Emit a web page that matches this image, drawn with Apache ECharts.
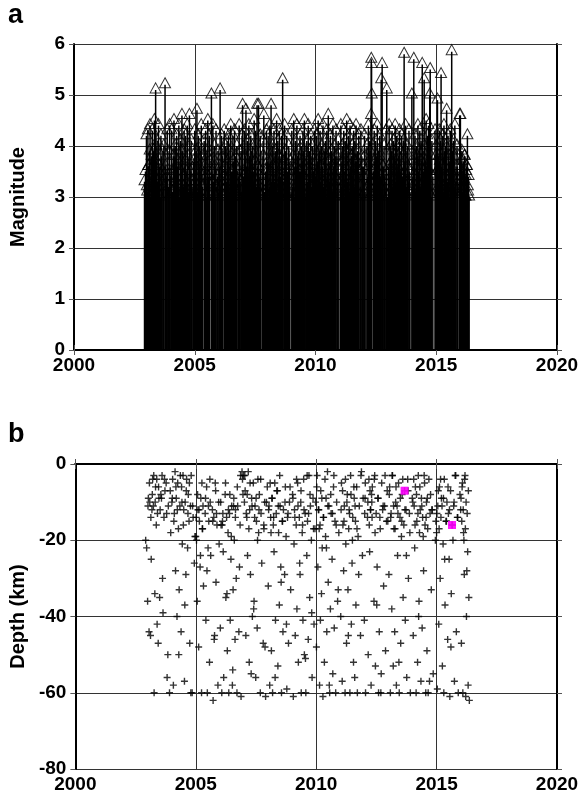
<!DOCTYPE html>
<html>
<head>
<meta charset="utf-8">
<script src="https://cdn.jsdelivr.net/npm/echarts@6/dist/echarts.min.js"></script>
<style>html,body{margin:0;padding:0;background:#fff}#chart{width:582px;height:800px}</style>
</head>
<body>
<div id="chart"></div>
<script>
// ---- data ----
const eventYears = [
2002.92,2002.96,2003.00,2003.03,2003.06,2003.09,2003.12,2003.15,2003.18,2003.21,
2003.24,2003.27,2003.30,2003.33,2003.36,2003.38,2003.41,2003.44,2003.47,2003.50,
2003.55,2003.60,2003.64,2003.68,2003.72,2003.77,2003.81,2003.86,2003.91,2003.96,
2004.01,2004.04,2004.07,2004.11,2004.14,2004.16,2004.19,2004.22,2004.25,2004.28,
2004.31,2004.34,2004.39,2004.41,2004.44,2004.47,2004.50,2004.53,2004.56,2004.59,
2004.62,2004.66,2004.69,2004.72,2004.75,2004.78,2004.81,2004.85,2004.89,2004.94,
2005.00,2005.03,2005.06,2005.09,2005.12,2005.15,2005.18,2005.21,2005.24,2005.27,
2005.30,2005.32,2005.39,2005.42,2005.45,2005.48,2005.51,2005.54,2005.57,2005.60,
2005.62,2005.69,2005.72,2005.75,2005.78,2005.81,2005.84,2005.88,2005.92,2005.97,
2006.02,2006.05,2006.08,2006.11,2006.14,2006.16,2006.22,2006.25,2006.28,2006.31,
2006.34,2006.37,2006.40,2006.43,2006.46,2006.49,2006.52,2006.55,2006.58,2006.60,
2006.63,2006.65,2006.68,2006.71,2006.74,2006.79,2006.84,2006.88,2006.92,2006.96,
2006.98,2007.02,2007.05,2007.08,2007.12,2007.15,2007.18,2007.22,2007.24,2007.27,
2007.30,2007.32,2007.35,2007.39,2007.42,2007.46,2007.49,2007.52,2007.55,2007.58,
2007.61,2007.64,2007.68,2007.71,2007.74,2007.80,2007.83,2007.86,2007.90,2007.97,
2008.01,2008.04,2008.07,2008.11,2008.14,2008.16,2008.19,2008.22,2008.25,2008.28,
2008.31,2008.34,2008.39,2008.41,2008.44,2008.47,2008.50,2008.53,2008.56,2008.59,
2008.62,2008.64,2008.69,2008.72,2008.75,2008.78,2008.81,2008.85,2008.89,2008.94,
2009.02,2009.05,2009.08,2009.10,2009.13,2009.17,2009.20,2009.23,2009.26,2009.30,
2009.33,2009.36,2009.38,2009.42,2009.45,2009.48,2009.51,2009.54,2009.57,2009.61,
2009.64,2009.67,2009.70,2009.73,2009.76,2009.80,2009.83,2009.87,2009.91,2009.95,
2010.01,2010.04,2010.07,2010.11,2010.14,2010.16,2010.19,2010.22,2010.25,2010.28,
2010.31,2010.34,2010.39,2010.41,2010.44,2010.47,2010.50,2010.53,2010.56,2010.59,
2010.62,2010.66,2010.69,2010.72,2010.75,2010.78,2010.81,2010.85,2010.89,2010.94,
2011.02,2011.05,2011.08,2011.11,2011.14,2011.17,2011.20,2011.23,2011.26,2011.29,
2011.32,2011.35,2011.37,2011.40,2011.43,2011.46,2011.49,2011.52,2011.55,2011.58,
2011.60,2011.63,2011.65,2011.68,2011.71,2011.74,2011.79,2011.84,2011.88,2011.92,
2012.00,2012.03,2012.05,2012.13,2012.16,2012.19,2012.22,2012.25,2012.28,2012.30,
2012.31,2012.32,2012.33,2012.40,2012.43,2012.46,2012.49,2012.53,2012.56,2012.59,
2012.62,2012.66,2012.70,2012.72,2012.76,2012.80,2012.84,2012.88,2012.92,2012.95,
2013.02,2013.05,2013.08,2013.11,2013.14,2013.17,2013.20,2013.23,2013.26,2013.30,
2013.33,2013.36,2013.38,2013.42,2013.45,2013.48,2013.51,2013.54,2013.57,2013.61,
2013.64,2013.67,2013.70,2013.73,2013.76,2013.80,2013.83,2013.87,2013.91,2013.99,
2014.03,2014.07,2014.09,2014.12,2014.15,2014.18,2014.21,2014.24,2014.27,2014.29,
2014.32,2014.35,2014.37,2014.40,2014.42,2014.46,2014.50,2014.52,2014.55,2014.58,
2014.60,2014.63,2014.65,2014.68,2014.73,2014.75,2014.78,2014.82,2014.86,2014.95,
2015.00,2015.03,2015.05,2015.09,2015.12,2015.15,2015.18,2015.20,2015.24,2015.27,
2015.30,2015.32,2015.35,2015.39,2015.43,2015.46,2015.49,2015.52,2015.55,2015.58,
2015.61,2015.64,2015.68,2015.71,2015.74,2015.77,2015.82,2015.86,2015.90,2015.97,
2016.00,2016.03,2016.06,2016.09,2016.12,2016.15,2016.18,2016.21,2016.24,2016.27,
2016.29,2016.31,2016.34,2016.36,
2003.015,2003.075,2003.135,2003.195,2003.255,2003.315,2003.395,2003.455,2003.52,2003.575,2003.62,2003.70,2003.79,2003.84,2003.94,
2004.025,2004.09,2004.175,2004.235,2004.295,2004.36,2004.425,2004.485,2004.545,2004.605,2004.675,2004.735,2004.795,2004.87,2004.965,
2005.015,2005.075,2005.135,2005.195,2005.255,2005.285,2005.405,2005.465,2005.525,2005.585,2005.705,2005.765,2005.825,2005.86,2005.95,
2006.035,2006.095,2006.125,2006.235,2006.295,2006.355,2006.415,2006.475,2006.535,2006.57,2006.645,2006.725,2006.815,2006.86,2006.94,
2007.035,2007.095,2007.135,2007.205,2007.255,2007.335,2007.405,2007.445,2007.505,2007.565,2007.625,2007.695,2007.825,2007.875,2007.935,
2008.025,2008.09,2008.125,2008.175,2008.235,2008.295,2008.365,2008.425,2008.485,2008.545,2008.605,2008.705,2008.765,2008.83,2008.915,
2009.035,2009.115,2009.185,2009.245,2009.315,2009.37,2009.435,2009.495,2009.555,2009.625,2009.685,2009.745,2009.815,2009.89,2009.975,
2010.025,2010.09,2010.125,2010.175,2010.235,2010.295,2010.365,2010.425,2010.485,2010.545,2010.605,2010.675,2010.735,2010.83,2010.915,
2011.035,2011.095,2011.155,2011.215,2011.275,2011.335,2011.385,2011.445,2011.505,2011.565,2011.615,2011.695,2011.765,2011.86,2011.95,
2012.015,2012.04,2012.145,2012.205,2012.235,2012.265,2012.415,2012.445,2012.515,2012.575,2012.645,2012.685,2012.78,2012.86,2012.975,
2013.035,2013.095,2013.155,2013.215,2013.275,2013.315,2013.395,2013.435,2013.495,2013.555,2013.595,2013.685,2013.745,2013.815,2013.89,
2014.015,2014.05,2014.105,2014.165,2014.225,2014.255,2014.305,2014.385,2014.445,2014.485,2014.565,2014.615,2014.705,2014.805,2014.97,
2015.015,2015.07,2015.105,2015.165,2015.225,2015.285,2015.335,2015.41,2015.475,2015.535,2015.595,2015.655,2015.725,2015.795,2015.88,
2016.015,2016.045,2016.075,2016.105,2016.135,2016.165,2016.195,2016.225,2016.255,2016.32
];
const magnitudes = [
3.3,3.5,4.2,3.1,4.3,3.6,3.2,4.4,3.0,3.8,
4.3,3.2,3.9,4.5,3.4,5.1,3.7,4.1,3.1,4.4,
3.6,4.2,3.3,3.9,4.0,5.2,3.5,4.3,3.2,4.4,
3.4,4.3,3.1,3.8,4.5,3.3,4.0,3.6,4.2,3.0,
3.7,4.4,3.2,4.1,3.5,4.6,3.9,3.1,4.3,3.6,
4.2,3.3,4.4,3.8,3.0,4.6,3.5,4.1,3.2,3.7,
4.3,3.4,3.9,4.7,3.1,4.2,3.6,4.0,3.3,4.4,
3.8,3.2,4.1,3.5,4.3,3.0,3.9,4.5,3.4,4.2,
3.7,5.0,3.3,4.4,3.1,4.0,3.6,4.3,3.2,3.9,
3.5,5.1,3.2,4.2,3.8,3.0,4.3,3.6,4.0,3.3,
4.1,3.4,4.2,3.1,3.9,4.4,3.5,3.0,4.2,3.7,
3.2,4.3,3.8,3.1,4.0,3.5,4.4,3.3,3.9,4.2,
4.8,3.4,4.3,3.0,4.7,3.6,4.1,3.2,4.4,3.8,
3.1,4.2,3.5,4.0,3.3,4.5,3.7,4.3,3.0,4.8,
3.6,4.8,3.2,4.2,3.9,3.4,4.1,4.6,3.1,4.3,
3.5,4.2,3.0,4.4,3.7,4.8,3.3,4.0,3.6,4.3,
3.2,3.9,4.5,3.1,4.1,3.4,4.3,3.8,3.0,4.2,
3.6,5.3,3.3,4.4,3.9,3.1,4.2,3.5,4.0,3.7,
4.3,3.2,3.8,4.5,3.0,4.1,3.6,4.4,3.3,3.9,
3.5,4.2,3.1,4.0,3.7,4.3,3.4,4.5,3.0,3.8,
4.1,3.3,4.4,3.6,3.9,4.2,3.2,4.0,3.5,4.3,
3.4,4.2,3.7,4.5,3.1,3.9,4.3,3.3,4.0,3.6,
4.4,3.2,3.8,4.1,3.0,4.3,3.5,4.6,3.7,3.3,
4.2,3.9,3.1,4.4,3.6,4.0,3.4,4.3,3.8,4.1,
3.5,4.4,3.2,4.0,3.7,4.3,3.0,4.1,3.6,4.5,
3.3,3.9,4.2,3.1,4.4,3.6,3.8,4.0,3.4,4.3,
3.2,4.1,3.7,4.4,3.0,3.9,4.2,3.5,4.3,3.8,
3.6,4.2,3.1,4.0,3.4,4.4,3.7,4.1,3.3,4.6,
5.7,5.6,5.0,3.5,4.3,3.2,4.1,3.8,4.4,3.0,
3.9,4.2,3.4,5.3,5.6,3.6,4.0,3.3,4.3,5.1,
3.5,4.4,3.1,4.0,3.7,4.3,3.2,4.1,3.8,4.4,
3.3,4.2,3.6,4.0,3.0,4.3,3.5,3.9,4.2,3.4,
4.1,5.8,3.7,4.4,3.2,4.0,3.6,4.3,3.1,5.0,
3.4,5.7,3.8,4.2,3.1,4.0,3.6,4.4,3.3,3.9,
4.3,3.2,4.1,3.7,5.6,3.5,5.3,4.0,3.0,4.5,
3.6,4.2,3.3,4.4,5.0,5.5,3.8,4.1,3.4,4.3,
4.0,3.5,4.9,3.2,4.3,3.7,4.1,5.4,3.4,4.2,
3.1,4.4,3.6,4.0,4.7,3.3,4.2,3.8,3.0,4.3,
3.5,5.85,3.9,4.1,3.2,4.4,3.6,4.0,3.3,4.6,
4.6,3.4,3.9,3.1,3.7,3.3,3.8,3.0,3.5,3.6,
4.2,3.2,3.4,3.0,
3.2,3.6,3.9,3.4,3.1,3.7,4.0,3.3,3.5,3.0,3.8,3.2,3.6,3.4,3.9,
3.5,3.1,3.8,3.3,3.6,3.0,3.9,3.4,3.2,3.7,3.5,3.1,4.0,3.3,3.6,
3.3,3.7,3.0,3.5,3.9,3.2,3.6,3.4,3.8,3.1,3.5,3.3,3.7,3.0,3.4,
3.6,3.2,3.9,3.4,3.1,3.7,3.3,3.8,3.0,3.5,3.2,3.6,3.4,3.9,3.1,
3.4,3.8,3.1,3.6,3.3,3.9,3.0,3.5,3.7,3.2,3.6,3.4,3.8,3.1,3.5,
3.7,3.2,3.5,3.0,3.9,3.3,3.6,3.1,3.8,3.4,3.2,3.7,3.5,3.0,3.6,
3.1,3.6,3.4,3.8,3.2,3.5,3.0,3.9,3.3,3.7,3.1,3.5,3.8,3.2,3.4,
3.5,3.2,3.8,3.0,3.6,3.3,3.9,3.1,3.4,3.7,3.2,3.5,3.0,3.8,3.3,
3.3,3.7,3.1,3.5,3.9,3.2,3.6,3.0,3.8,3.4,3.1,3.7,3.5,3.2,3.6,
3.4,3.8,3.2,3.6,3.0,3.9,3.3,3.7,3.1,3.5,3.8,3.2,3.6,3.4,3.0,
3.6,3.1,3.9,3.3,3.7,3.0,3.5,3.8,3.2,3.6,3.4,3.1,3.9,3.3,3.5,
3.2,3.7,3.4,3.0,3.8,3.5,3.1,3.6,3.9,3.3,3.7,3.2,3.5,3.0,3.8,
3.5,3.1,3.8,3.3,3.6,3.0,3.9,3.4,3.2,3.7,3.5,3.1,3.8,3.3,3.6,
3.3,3.7,3.1,3.5,3.2,3.8,3.0,3.4,3.6,3.1
];
const depths = [
-20,-22,-36,-9,-44,-10,-45,-25,-12,-4,
-11,-60,-34,-6,-16,-4,-13,-47,-9,-35,
-8,-3,-39,-14,-7,-5,-56,-11,-60,-18,
-10,-4,-58,-13,-2,-28,-9,-40,-5,-17,
-33,-11,-44,-6,-21,-3,-12,-57,-10,-29,
-4,-22,-8,-15,-47,-11,-3,-60,-14,-26,
-19,-20,-36,-12,-48,-15,-27,-9,-60,-17,
-11,-32,-13,-41,-6,-60,-22,-15,-52,-10,
-24,-12,-62,-14,-45,-5,-31,-16,-58,-21,
-43,-16,-60,-15,-23,-56,-8,-35,-14,-49,
-18,-60,-13,-41,-25,-11,-58,-33,-9,-20,
-46,-12,-30,-60,-11,-44,-16,-61,-2,-8,
-3,-10,-7,-45,-14,-24,-2,-52,-12,-29,
-55,-9,-40,-5,-36,-11,-56,-15,-43,-4,
-18,-8,-60,-13,-26,-47,-17,-10,-61,-6,
-32,-11,-58,-14,-49,-9,-60,-16,-23,-5,
-41,-13,-7,-53,-18,-37,-11,-27,-60,-15,
-44,-12,-29,-6,-19,-59,-14,-47,-10,-33,
-8,-61,-21,-12,-45,-16,-38,-5,-52,-14,
-29,-10,-60,-18,-41,-4,-50,-13,-60,-24,
-15,-46,-3,-35,-11,-20,-56,-9,-42,-17,
-48,-3,-27,-12,-58,-16,-7,-34,-22,-61,
-14,-52,-19,-9,-44,-2,-31,-11,-60,-38,
-13,-25,-55,-6,-43,-15,-60,-10,-36,-18,
-40,-5,-57,-16,-28,-11,-60,-21,-47,-8,
-33,-17,-12,-60,-3,-42,-26,-14,-52,-9,
-56,-15,-37,-6,-60,-19,-11,-45,-2,-24,
-41,-9,-60,-14,-50,-4,-23,-12,-58,-8,
-10,-14,-6,-36,-3,-53,-13,-27,-9,-60,
-44,-17,-55,-5,-12,-32,-11,-49,-15,-7,
-29,-6,-60,-13,-38,-3,-53,-17,-44,-10,
-58,-11,-24,-5,-60,-14,-47,-19,-8,-35,
-16,-7,-41,-12,-56,-4,-30,-13,-60,-9,
-45,-11,-22,-6,-60,-15,-52,-3,-36,-18,
-12,-57,-9,-43,-14,-28,-5,-16,-60,-10,
-49,-17,-60,-4,-13,-8,-33,-12,-55,-20,
-18,-59,-11,-42,-6,-30,-14,-9,-53,-21,
-60,-4,-37,-15,-10,-46,-13,-25,-61,-7,
-34,-16,-20,-11,-57,-3,-44,-14,-60,-8,
-12,-47,-6,-60,-18,-29,-3,-61,-40,-13,
-23,-58,-35,-62,
-11,-5,-14,-8,-3,-10,-42,-6,-12,-9,-30,-4,-13,-50,-7,
-9,-15,-6,-12,-50,-3,-10,-16,-37,-7,-13,-5,-60,-11,-19,
-14,-8,-12,-24,-5,-17,-9,-28,-11,-4,-15,-46,-7,-13,-10,
-10,-16,-13,-5,-34,-12,-8,-19,-54,-11,-14,-6,-27,-3,-4,
-3,-13,-8,-17,-5,-11,-38,-14,-9,-20,-12,-4,-16,-48,-10,
-12,-5,-18,-9,-14,-56,-7,-11,-3,-31,-15,-10,-42,-13,-6,
-9,-14,-4,-11,-26,-7,-16,-12,-51,-3,-13,-8,-39,-17,-10,
-6,-12,-17,-41,-9,-14,-4,-22,-11,-58,-8,-13,-3,-16,-33,
-12,-7,-15,-4,-10,-45,-13,-8,-20,-6,-11,-17,-29,-3,-9,
-13,-5,-10,-16,-7,-12,-4,-18,-37,-9,-14,-60,-11,-3,-15,
-8,-14,-3,-11,-17,-6,-13,-52,-9,-15,-4,-12,-24,-7,-18,
-10,-4,-16,-8,-13,-40,-6,-11,-19,-3,-14,-9,-57,-12,-15,
-13,-7,-17,-4,-11,-9,-25,-15,-6,-12,-48,-16,-10,-3,-14,
-9,-15,-5,-12,-20,-4,-17,-10,-28,-7
];
// the two largest events, highlighted in panel b
const highlightYears = [2013.67, 2015.64];
const highlightDepths = [-7, -16];

const yearMin = 2000, yearMax = 2020, yearStep = 5;
const magMin = 0, magMax = 6, magStep = 1;
const depthMin = -80, depthMax = 0, depthStep = 20;

// ---- chart ----
const FONT = '"Liberation Sans", Arial, sans-serif';
const chart = echarts.init(document.getElementById('chart'), null, {renderer: 'canvas'});
const tickLabel = {color: '#000', fontFamily: FONT, fontWeight: 'bold', fontSize: 19};
const axisLine = {show: true, lineStyle: {color: '#000', width: 2}};
const tick = {show: true, inside: false, length: 5, lineStyle: {color: '#555', width: 1}};
const split = {show: true, lineStyle: {color: '#333', width: 1}};
const plusPath = 'path://M2.8,0H4.2V2.8H7V4.2H4.2V7H2.8V4.2H0V2.8H2.8Z';

function xAx(grid, pos) {
  return {type: 'value', gridIndex: grid, position: pos, min: yearMin, max: yearMax, interval: yearStep,
    axisLine: axisLine, axisTick: tick, splitLine: pos === 'bottom' ? split : {show: false},
    axisLabel: pos === 'bottom' ? Object.assign({margin: 6, formatter: v => String(v)}, tickLabel) : {show: false}};
}
function yAx(grid, pos, min, max, step, name) {
  return {type: 'value', gridIndex: grid, position: pos, min: min, max: max, interval: step,
    name: pos === 'left' ? name : '', nameLocation: 'middle', nameGap: 46, nameRotate: 90,
    nameTextStyle: {color: '#000', fontFamily: FONT, fontWeight: 'bold', fontSize: 20},
    axisLine: axisLine, axisTick: tick, splitLine: pos === 'left' ? split : {show: false},
    axisLabel: pos === 'left' ? Object.assign({margin: 9}, tickLabel) : {show: false}};
}

const stemData = eventYears.map((t, i) => [t, magnitudes[i]]);
const depthData = eventYears.map((t, i) => [t, depths[i]]);
const hiData = highlightYears.map((t, i) => [t, highlightDepths[i]]);

chart.setOption({
  animation: false,
  backgroundColor: '#fff',
  grid: [
    {left: 74, top: 44, width: 483, height: 306},
    {left: 74, top: 464, width: 483, height: 305}
  ],
  xAxis: [xAx(0, 'bottom'), xAx(0, 'top'), xAx(1, 'bottom'), xAx(1, 'top')],
  yAxis: [
    yAx(0, 'left', magMin, magMax, magStep, 'Magnitude'),
    yAx(0, 'right', magMin, magMax, magStep, ''),
    yAx(1, 'left', depthMin, depthMax, depthStep, 'Depth (km)'),
    yAx(1, 'right', depthMin, depthMax, depthStep, '')
  ],
  graphic: [
    {type: 'text', left: 8, top: 2, style: {text: 'a', font: 'bold 27px ' + FONT, fill: '#000'}},
    {type: 'text', left: 8, top: 421, style: {text: 'b', font: 'bold 27px ' + FONT, fill: '#000'}}
  ],
  series: [
    {type: 'bar', xAxisIndex: 0, yAxisIndex: 0, data: stemData, barWidth: 1.5,
      itemStyle: {color: '#000'}, z: 2, silent: true},
    {type: 'scatter', xAxisIndex: 0, yAxisIndex: 0, data: stemData, symbol: 'triangle',
      symbolSize: [11, 10], symbolOffset: [0, -2],
      itemStyle: {color: 'rgba(0,0,0,0)', borderColor: '#000', borderWidth: 1}, z: 3, silent: true},
    {type: 'scatter', xAxisIndex: 2, yAxisIndex: 2, data: depthData, symbol: plusPath, symbolSize: 7,
      itemStyle: {color: '#000'}, z: 3, silent: true},
    {type: 'scatter', xAxisIndex: 2, yAxisIndex: 2, data: hiData, symbol: 'rect', symbolSize: 8,
      itemStyle: {color: '#ff00ff', opacity: 0.9}, z: 4, silent: true}
  ]
});
</script>
</body>
</html>
